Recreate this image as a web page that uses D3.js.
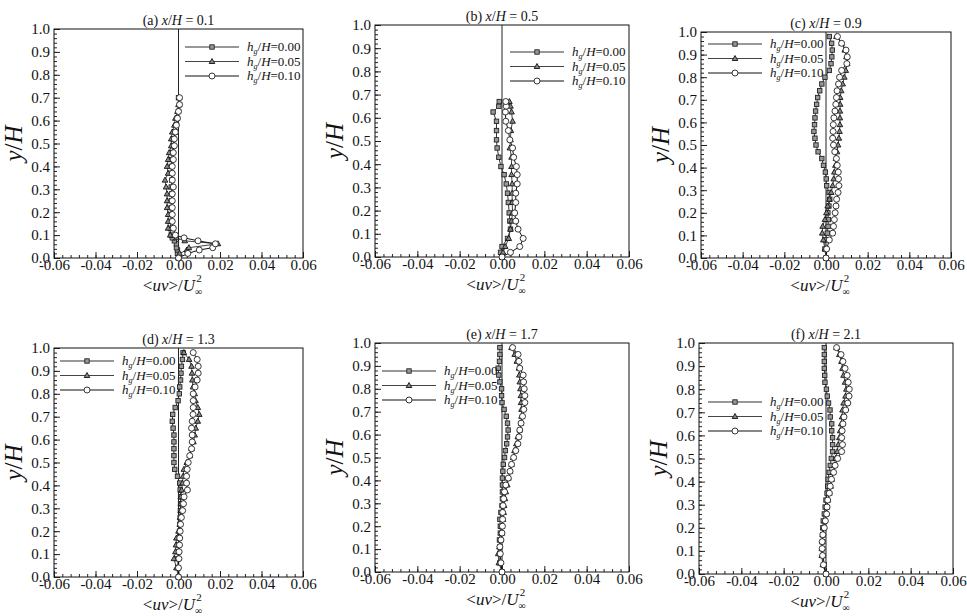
<!DOCTYPE html>
<html>
<head>
<meta charset="utf-8">
<script src="https://cdn.jsdelivr.net/npm/d3@7/dist/d3.min.js"></script>
<style>
  body { margin: 0; background: #fff; }
  svg text { font-family: "Liberation Serif", "Times New Roman", serif; }
</style>
</head>
<body>
<svg id="canvas" width="967" height="616"></svg>
<script>
"use strict"

// values, x in units of 1e-3 (<uv>/U^2)
const hgLabels = ["0.00", "0.05", "0.10"]
const panelLetters = ["(a)", "(b)", "(c)", "(d)", "(e)", "(f)"]
const xhValues = ["0.1", "0.5", "0.9", "1.3", "1.7", "2.1"]
const xTicks = [-0.06, -0.04, -0.02, 0, 0.02, 0.04, 0.06]
const yTicks = [0, 0.1, 0.2, 0.3, 0.4, 0.5, 0.6, 0.7, 0.8, 0.9, 1.0]

const yA = [0, 0.02, 0.035, 0.045, 0.062, 0.075, 0.088, 0.10, 0.13, 0.16, 0.19, 0.22, 0.25, 0.28,
  0.31, 0.34, 0.37, 0.40, 0.43, 0.46, 0.49, 0.52, 0.55, 0.58, 0.61, 0.64, 0.67, 0.70]
const yB = [0, 0.02, 0.045, 0.08, 0.12, 0.155, 0.19, 0.235, 0.275, 0.315, 0.355, 0.39, 0.43,
  0.47, 0.505, 0.545, 0.585, 0.625, 0.65, 0.67]
const yFull = [0, 0.04, 0.08, 0.11, 0.14, 0.17, 0.20, 0.23, 0.26, 0.29, 0.32, 0.35, 0.38, 0.41,
  0.44, 0.47, 0.50, 0.53, 0.56, 0.59, 0.62, 0.65, 0.68, 0.71, 0.74, 0.77, 0.80, 0.83, 0.86, 0.89,
  0.92, 0.95, 0.98]

const a000 = [0, -0.5, -0.5, -1, -1, -2, -3, -3.5, -4, -3.5, -3.8, -3.5, -3.5, -3.3, -3.5, -3.2,
  -3.5, -3.5, -3.3, -3, -2.5, -2.5, -1.5, -1, -0.5, 0, 0.5, 0]
const a005 = [0, 0.5, 4, 5, 19, 3, -1, -4, -5, -5, -5, -5.5, -5.5, -5.5, -6, -6.5, -5, -5.5, -5,
  -4.5, -3.5, -3.5, -3, -2, -1.5, -0.5, 0, 0.3]
const a010 = [0, 4.5, 10, 16.5, 17.8, 9.4, 2.7, -1.5, -2.5, -3, -3, -3, -3, -3, -2.5, -3, -3, -3,
  -2.5, -2.5, -2, -2, -1.5, -1, -0.5, 0, 0.5, 0.5]

const b000 = [0, -0.7, 0, 2.6, 4, 3.7, 3.4, 3, 2.6, 2, 1, -0.5, -1.5, -2.3, -2.6, -2.6, -2.6, -4.2, -1.5, -1.3]
const b005 = [0, 0.5, 1.5, 3.2, 4, 4.5, 5, 4.8, 4.8, 4.8, 4.5, 4.5, 4.5, 3.7, 4, 4.2, 5, 4.5, 4, 3.5]
const b010 = [0, 4, 8.4, 10, 7.6, 6.5, 6, 6.5, 6.5, 7.2, 7.2, 6.8, 5.5, 5, 3.7, 3, 1.8, 1.6, 2, 1.8]

const c000 = [0, -0.5, -0.5, 0.6, 1.0, 1.1, 0.9, 1.4, 1.8, 1.5, 0.3, 0.1, -0.3, -1.2, -2.0, -3.8,
  -4.8, -5.3, -5.8, -5.5, -5.3, -5.0, -4.5, -4.0, -3.0, -2.0, -0.5, 1.6, 2.4, 2.8, 3.0, 2.7, 1.6]
const c005 = [0, -0.5, -1.3, -1.8, -1.6, -0.5, 0.2, 0.8, 1.6, 2.5, 3.2, 3.7, 4.0, 4.5, 4.8, 5.3,
  5.8, 6.2, 6.5, 6.7, 6.7, 6.7, 6.8, 6.8, 7.3, 8.0, 8.8, 9.5, 10.2, 9.8, 9.0, 7.5, 5.0]
const c010 = [0, 0.3, 1.6, 3.2, 3.6, 4.0, 4.4, 4.8, 5.1, 5.8, 6.2, 6.0, 5.9, 5.4, 5.0, 4.2, 3.6,
  3.2, 3.4, 3.5, 3.8, 4.3, 4.7, 5.0, 5.3, 6.0, 6.5, 7.5, 10.0, 10.2, 9.6, 7.5, 5.5]

const d000 = [0, -0.3, -0.3, -0.2, 0, 0.3, 0.5, 0.6, 0.8, 0.9, 1.0, 1.0, 0.8, 0.6, -0.5, -1.8,
  -2.2, -2.2, -2.2, -2.2, -2.2, -2.6, -3.0, -2.8, -1.6, -0.2, 0.4, 0.6, 1.0, 1.2, 1.4, 1.9, 2.2]
const d005 = [0, -1.0, -2.2, -1.5, -1.2, -1.0, 0, 0.6, 0.8, 1.1, 1.1, 1.1, 1.5, 1.9, 2.2, 2.6,
  4.0, 5.5, 6.3, 7.2, 7.8, 8.3, 9.3, 10.0, 9.3, 8.2, 7.8, 7.0, 6.7, 6.5, 6.3, 5.1, 2.6]
const d010 = [0, 0, 0.2, 0.3, 0.5, 0.6, 0.8, 1.0, 1.4, 2.0, 2.4, 2.7, 4.3, 3.9, 3.9, 4.2, 4.7,
  5.4, 6.3, 6.6, 6.6, 6.3, 6.6, 7.0, 7.1, 7.1, 7.1, 8.0, 9.0, 9.5, 9.5, 9.0, 7.1]

const e000 = [0, -1.0, -1.0, -1.0, -1.2, -0.8, -0.8, -1.0, -0.5, 0, 0.2, 0.2, 0.2, 0.2, 0.4, 0.6,
  1.2, 1.6, 2.2, 2.6, 2.9, 2.6, 2.0, 1.0, 0, -0.2, -0.2, -1.0, -1.5, -1.8, -1.2, -1.0, -1.0]
const e005 = [0, -1.5, -1.8, -1.2, -0.5, 0, 0, 0.5, 0.8, 1.0, 1.4, 1.8, 2.5, 3.0, 3.8, 4.5, 5.3,
  5.9, 6.8, 7.5, 8.4, 9.0, 9.2, 9.2, 9.0, 8.9, 8.7, 8.4, 8.2, 8.0, 7.0, 6.0, 4.5]
const e010 = [0, -0.5, -0.8, -1.0, -0.5, 0, 0.2, 0.3, 0.3, 0.5, 0.8, 1.2, 1.8, 3.0, 3.8, 4.5, 5.5,
  6.5, 7.5, 8.0, 8.4, 9.0, 9.7, 10.3, 10.8, 10.8, 10.5, 10.2, 10.0, 8.4, 8.0, 7.6, 5.0]

const f000 = [0, -0.8, -1.4, -1.6, -1.6, -1.6, -1.5, -1.3, -0.8, -0.4, 0, 0.5, 0.8, 1.0, 1.5, 2.0,
  2.5, 3.1, 3.1, 3.1, 2.7, 2.7, 2.0, 1.9, 1.2, 0.6, 0.2, -0.5, -0.6, -0.8, -0.8, -0.8, -0.8]
const f005 = [0, -1.5, -2.0, -2.0, -1.8, -1.6, -1.2, -0.6, 0.2, 0.5, 0.9, 1.6, 2.2, 2.7, 3.3, 4.0,
  4.5, 5.3, 5.8, 6.3, 6.7, 7.2, 7.6, 7.8, 8.3, 9.2, 9.6, 9.0, 8.3, 7.8, 7.3, 6.3, 5.0]
const f010 = [0, -1.2, -1.6, -1.8, -1.8, -1.5, -0.8, -0.3, 0.3, 0.5, 0.8, 1.6, 2.0, 2.6, 3.6, 4.3,
  5.5, 7.4, 7.8, 7.4, 7.6, 8.0, 8.5, 9.3, 10.3, 10.9, 11.0, 10.5, 10.0, 9.0, 8.0, 7.1, 5.0]

const panelData = [
  { y: yA, s: [a000, a005, a010] },
  { y: yB, s: [b000, b005, b010] },
  { y: yFull, s: [c000, c005, c010] },
  { y: yFull, s: [d000, d005, d010] },
  { y: yFull, s: [e000, e005, e010] },
  { y: yFull, s: [f000, f005, f010] },
]

// layout (pixels)
const boxes = [
  { x0: 54, x1: 303, y0: 29, y1: 258, lx: 185, ly: 47 },
  { x0: 375, x1: 629, y0: 25, y1: 257, lx: 510, ly: 52 },
  { x0: 701, x1: 951, y0: 32, y1: 258, lx: 708, ly: 44 },
  { x0: 54, x1: 303, y0: 348, y1: 577, lx: 60, ly: 361 },
  { x0: 375, x1: 629, y0: 343, y1: 572, lx: 382, ly: 371 },
  { x0: 699, x1: 953, y0: 343, y1: 574, lx: 708, ly: 402 },
]
const FONT = "'Liberation Serif', 'Times New Roman', serif"
const lineColors = ["#333", "#444", "#111"]
const markerKinds = ["square", "triangle", "circle"]

const svg = d3.select("#canvas")

function marker(g, kind, x, y) {
  if (kind == "square") {
    g.append("rect").attr("x", x - 2.2).attr("y", y - 2.2).attr("width", 4.4).attr("height", 4.4)
      .attr("fill", "#999").attr("stroke", "#222").attr("stroke-width", 0.9)
  } else if (kind == "triangle") {
    g.append("path").attr("d", `M${x},${y - 3}L${x + 2.8},${y + 2}L${x - 2.8},${y + 2}Z`)
      .attr("fill", "#888").attr("stroke", "#111").attr("stroke-width", 0.9)
  } else {
    g.append("circle").attr("cx", x).attr("cy", y).attr("r", 3)
      .attr("fill", "#fff").attr("stroke", "#222").attr("stroke-width", 0.9)
  }
}

panelData.forEach((p, i) => {
  const b = boxes[i]
  const x = d3.scaleLinear().domain([-0.06, 0.06]).range([b.x0, b.x1])
  const y = d3.scaleLinear().domain([0, 1]).range([b.y1, b.y0])
  const g = svg.append("g")

  // ticks, pointing inward
  const xAxis = d3.axisBottom(x).tickValues(xTicks).tickSize(-6).tickPadding(3)
    .tickFormat(d => d.toFixed(2))
  const gx = g.append("g").attr("transform", `translate(0,${b.y1})`).call(xAxis)
  const xMinor = d3.range(-0.06, 0.0601, 0.004)
  g.append("g").attr("transform", `translate(0,${b.y1})`)
    .call(d3.axisBottom(x).tickValues(xMinor).tickSize(-3).tickFormat(""))

  const yAxis = d3.axisLeft(y).tickValues(yTicks).tickSize(-6).tickPadding(4)
    .tickFormat(d => d.toFixed(1))
  const gy = g.append("g").attr("transform", `translate(${b.x0},0)`).call(yAxis)
  const yMinor = d3.range(0, 1.0001, 0.02)
  g.append("g").attr("transform", `translate(${b.x0},0)`)
    .call(d3.axisLeft(y).tickValues(yMinor).tickSize(-3).tickFormat(""))

  g.selectAll(".tick line").attr("stroke", "#222")
  g.selectAll(".domain").remove()
  g.selectAll(".tick text")
    .style("font-family", FONT).style("font-size", "15px").attr("fill", "#111")
  gx.selectAll(".tick text").attr("dy", "0.6em")

  // frame
  g.append("rect").attr("x", b.x0).attr("y", b.y0).attr("width", b.x1 - b.x0).attr("height", b.y1 - b.y0)
    .attr("fill", "none").attr("stroke", "#111").attr("stroke-width", 1)

  // zero line
  g.append("line").attr("x1", x(0)).attr("x2", x(0)).attr("y1", y(0)).attr("y2", y(1))
    .attr("stroke", "#222").attr("stroke-width", 1)

  // title
  const t = g.append("text").attr("x", (b.x0 + b.x1) / 2).attr("y", b.y0 - 4)
    .attr("text-anchor", "middle").style("font-size", "14px").attr("fill", "#111")
  t.append("tspan").text(panelLetters[i] + " ")
  t.append("tspan").attr("font-style", "italic").text("x")
  t.append("tspan").text("/")
  t.append("tspan").attr("font-style", "italic").text("H")
  t.append("tspan").text(" = " + xhValues[i])

  // axis labels
  const yl = g.append("text").attr("transform", `translate(${b.x0 - 32},${(b.y0 + b.y1) / 2}) rotate(-90)`)
    .attr("text-anchor", "middle").style("font-size", "25px").attr("fill", "#111")
  yl.append("tspan").attr("font-style", "italic").text("y")
  yl.append("tspan").text("/")
  yl.append("tspan").attr("font-style", "italic").text("H")

  const xl = g.append("text").attr("x", (b.x0 + b.x1) / 2 - 6).attr("y", b.y1 + 33)
    .attr("text-anchor", "middle").style("font-size", "17px").attr("fill", "#111")
  xl.append("tspan").text("<")
  xl.append("tspan").attr("font-style", "italic").text("uv")
  xl.append("tspan").text(">/")
  xl.append("tspan").attr("font-style", "italic").text("U")
  xl.append("tspan").attr("dy", 4).style("font-size", "10px").text("\u221e")
  xl.append("tspan").attr("dx", -6).attr("dy", -13).style("font-size", "11px").text("2")

  // profiles
  const clipId = "clip" + i
  g.append("clipPath").attr("id", clipId).append("rect")
    .attr("x", b.x0 - 4).attr("y", b.y0 - 4).attr("width", b.x1 - b.x0 + 8).attr("height", b.y1 - b.y0 + 8)
  p.s.forEach((vals, k) => {
    const pts = vals.map((v, j) => [v * 1e-3, p.y[j]])
    const sg = g.append("g").attr("clip-path", `url(#${clipId})`)
    sg.append("path").attr("d", d3.line().x(d => x(d[0])).y(d => y(d[1]))(pts))
      .attr("fill", "none").attr("stroke", lineColors[k]).attr("stroke-width", 1)
    pts.forEach(d => marker(sg, markerKinds[k], x(d[0]), y(d[1])))
  })

  // legend
  hgLabels.forEach((lab, k) => {
    const ly = b.ly + k * 14.5
    g.append("line").attr("x1", b.lx).attr("x2", b.lx + 54).attr("y1", ly).attr("y2", ly)
      .attr("stroke", lineColors[k]).attr("stroke-width", 1.2)
    marker(g, markerKinds[k], b.lx + 27, ly)
    const lt = g.append("text").attr("x", b.lx + 62).attr("y", ly + 4)
      .style("font-size", "13px").attr("fill", "#111")
    lt.append("tspan").attr("font-style", "italic").text("h")
    lt.append("tspan").attr("dy", 3).style("font-size", "8px").attr("font-style", "italic").text("g")
    lt.append("tspan").attr("dy", -3).text("/")
    lt.append("tspan").attr("font-style", "italic").text("H")
    lt.append("tspan").text("=" + lab)
  })
})
</script>
</body>
</html>
